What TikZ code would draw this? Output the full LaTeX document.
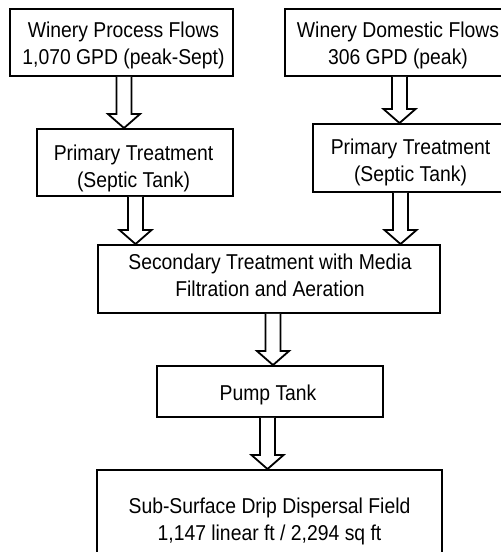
\documentclass[tikz,border=0pt]{standalone}
\usepackage{fontspec}
\setmainfont[FakeStretch=0.9]{Liberation Sans}
\usetikzlibrary{calc}
\tikzset{
  box/.style={draw=black, line width=1.9pt, rectangle, inner sep=0pt, fill=none},
  txt/.style={align=center, inner sep=0pt, font=\fontsize{21.5}{27}\selectfont},
  blk/.style={draw=black, line width=1.8pt, fill=white, line join=miter},
}
\newcommand\blockarr[3]{%
  \draw[blk] let \p1=(#2.south), \p2=(#3.north) in
    (#1pt-7.5pt,\y1) -- (#1pt-7.5pt,\y2+14pt) -- (#1pt-16pt,\y2+14pt) --
    (#1pt,\y2) -- (#1pt+16pt,\y2+14pt) -- (#1pt+7.5pt,\y2+14pt) -- (#1pt+7.5pt,\y1);}
\begin{document}
\begin{tikzpicture}[x=1pt,y=-1pt]
\useasboundingbox (0,0) rectangle (501,552);
\fill[white] (0,0) rectangle (501,552);
\clip (0,0) rectangle (501,552);
% boxes
\node[box, minimum width=223pt, minimum height=67pt] (b1) at (121.5,42.5) {};
\node[box, minimum width=226pt, minimum height=67pt] (b2) at (398,42.5) {};
\node[box, minimum width=196pt, minimum height=67pt] (b3) at (135,162.5) {};
\node[box, minimum width=195pt, minimum height=68pt] (b4) at (410.5,158) {};
\node[box, minimum width=342pt, minimum height=68pt] (b5) at (269,279) {};
\node[box, minimum width=226pt, minimum height=51pt] (pump) at (270,391.5) {};
\node[box, minimum width=345pt, minimum height=130pt] (fin) at (269.5,535) {};
% texts
\node[txt] (t1) at (123.5,45.1) {\strut Winery Process Flows\\\strut 1,070 GPD (peak-Sept)};
\node[txt] (t2) at (398,45.3) {\strut Winery Domestic Flows\\\strut 306 GPD (peak)};
\node[txt] (t3) at (133.5,169) {\strut Primary Treatment\\\strut (Septic Tank)};
\node[txt] (t4) at (410.5,163) {\strut Primary Treatment\\\strut (Septic Tank)};
\node[txt] (t5) at (270,277.5) {\strut Secondary Treatment with Media\\\strut Filtration and Aeration};
\node[txt] (tp) at (268,394.6) {\strut Pump Tank};
\node[txt] (tf) at (269.5,522) {\strut Sub-Surface Drip Dispersal Field\\\strut 1,147 linear ft / 2,294 sq ft};
% block arrows
\blockarr{124}{b1}{b3}
\blockarr{399.5}{b2}{b4}
\blockarr{135.5}{b3}{b5}
\blockarr{400.5}{b4}{b5}
\blockarr{273}{b5}{pump}
\blockarr{267.5}{pump}{fin}
\end{tikzpicture}
\end{document}
